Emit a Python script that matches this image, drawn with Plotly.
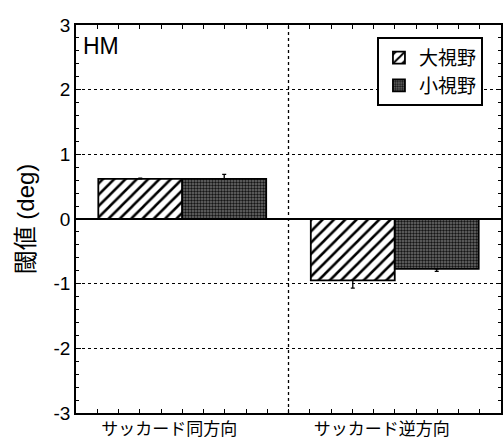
import plotly.graph_objects as go

categories = ["サッカード同方向", "サッカード逆方向"]
series_names = ["大視野", "小視野"]
large_vals = [0.62, -0.95]
large_err = [0.01, 0.12]
small_vals = [0.62, -0.77]
small_err = [0.07, 0.04]
y_ticks = [-3, -2, -1, 0, 1, 2, 3]
y_tick_labels = ["-3", "-2", "-1", "0", "1", "2", "3"]

FONT = "Liberation Sans, Noto Sans CJK JP, sans-serif"
JFONT = "Noto Sans CJK JP, sans-serif"
xpos = list(range(len(categories)))

def one_sided(vals, errs):
    up = [e if v >= 0 else 0 for v, e in zip(vals, errs)]
    down = [e if v < 0 else 0 for v, e in zip(vals, errs)]
    return up, down

fig = go.Figure()
u, d = one_sided(large_vals, large_err)
fig.add_trace(go.Bar(
    x=xpos, y=large_vals, name=series_names[0],
    marker=dict(color="white", line=dict(color="black", width=1.8),
                pattern=dict(shape="/", fgcolor="black", bgcolor="white", size=8, solidity=0.32, fgopacity=1)),
    error_y=dict(type="data", symmetric=False, array=u, arrayminus=d,
                 color="black", thickness=1.3, width=2),
))
u, d = one_sided(small_vals, small_err)
fig.add_trace(go.Bar(
    x=xpos, y=small_vals, name=series_names[1],
    marker=dict(color="#4a4a4a", line=dict(color="black", width=1.8),
                pattern=dict(shape=".", fgcolor="#151515", bgcolor="#6e6e6e", size=3, solidity=0.5, fgopacity=1)),
    error_y=dict(type="data", symmetric=False, array=u, arrayminus=d,
                 color="black", thickness=1.3, width=2),
))

# vertical dotted divider between categories
fig.add_shape(type="line", xref="x", yref="paper", x0=0.5, x1=0.5, y0=0, y1=1,
              line=dict(color="black", width=1.3, dash="dot"), layer="above")

fig.add_annotation(text="HM", xref="paper", yref="paper", x=0.012, y=0.985,
                   xanchor="left", yanchor="top", showarrow=False,
                   font=dict(family=FONT, size=23, color="black"))

fig.update_layout(
    width=503, height=442,
    margin=dict(l=76, r=2, t=25, b=29),
    paper_bgcolor="white", plot_bgcolor="white",
    barmode="group", bargap=0.21, bargroupgap=0,
    font=dict(family=FONT, color="black"),
    legend=dict(x=0.958, y=0.969, xanchor="right", yanchor="top",
                bgcolor="white", bordercolor="black", borderwidth=1.8,
                font=dict(family=JFONT, size=19, color="black"),
                itemwidth=30, tracegroupgap=0),
    xaxis=dict(
        range=[-0.5, 1.5], tickmode="array", tickvals=xpos, ticktext=categories,
        ticks="inside", ticklen=4, tickwidth=1.2, tickcolor="black",
        minor=dict(dtick=0.1, tick0=0, ticks="inside", ticklen=4, tickwidth=1.2, tickcolor="black"),
        showline=True, linecolor="black", linewidth=1.8, mirror="allticks",
        showgrid=False, zeroline=False, automargin=False,
        ticklabelshift=-13, ticklabelstandoff=0,
        tickfont=dict(family=JFONT, size=17, color="black"),
    ),
    yaxis=dict(
        range=[-3, 3], tickmode="array", tickvals=y_ticks, ticktext=y_tick_labels,
        ticks="inside", ticklen=5, tickwidth=1.2, tickcolor="black",
        minor=dict(dtick=0.2, tick0=0, ticks="inside", ticklen=3, tickwidth=1.2, tickcolor="black", showgrid=False),
        showline=True, linecolor="black", linewidth=1.8, mirror="allticks",
        showgrid=True, gridcolor="black", gridwidth=1.1, griddash="dot",
        zeroline=True, zerolinecolor="black", zerolinewidth=1.6, automargin=False,
        tickfont=dict(family=FONT, size=19, color="black"),
        title=dict(text="閾値 (deg)", font=dict(family=FONT, size=24, color="black"), standoff=12),
    ),
)

fig.write_html("out.html", config={"displayModeBar": False},
               post_script="document.body.style.margin='0';document.body.style.overflow='hidden';")
